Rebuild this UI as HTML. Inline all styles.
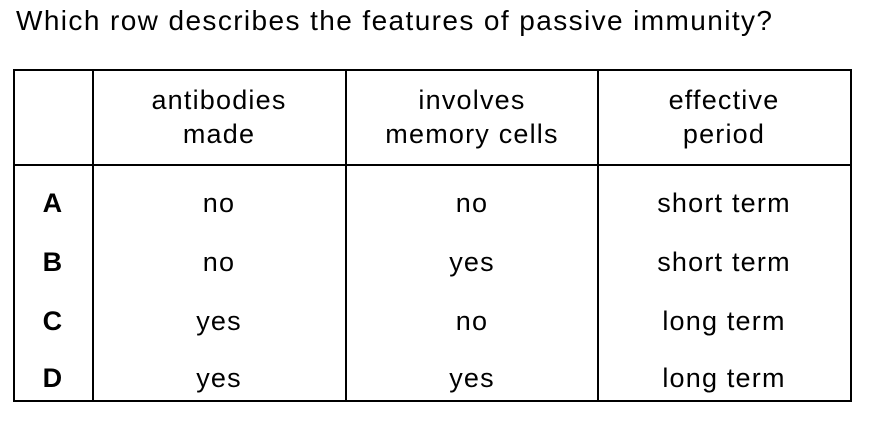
<!DOCTYPE html>
<html><head><style>
body{margin:0;width:871px;height:417px;background:#fff;overflow:hidden}
svg text{font-family:"Liberation Sans",Arial,sans-serif;font-size:27px;letter-spacing:1.2px;fill:#000}
</style></head><body>
<svg width="871" height="417" xmlns="http://www.w3.org/2000/svg">
<text x="16" y="30" style="font-size:28px;letter-spacing:1.4px">Which row describes the features of passive immunity?</text>
<g stroke="#000" stroke-width="2" fill="none">
<rect x="14" y="70" width="837" height="331"/>
<line x1="93" y1="70" x2="93" y2="401"/>
<line x1="346" y1="70" x2="346" y2="401"/>
<line x1="598" y1="70" x2="598" y2="401"/>
<line x1="14" y1="165" x2="851" y2="165"/>
</g>
<g text-anchor="middle">
<text x="219" y="109">antibodies</text><text x="219" y="143">made</text>
<text x="472" y="109">involves</text><text x="472" y="143">memory cells</text>
<text x="724" y="109">effective</text><text x="724" y="143">period</text>
<text x="53" y="212" style="font-weight:bold">A</text><text x="53" y="271" style="font-weight:bold">B</text><text x="53" y="330" style="font-weight:bold">C</text><text x="53" y="387" style="font-weight:bold">D</text>
<text x="219" y="212">no</text><text x="472" y="212">no</text><text x="724" y="212">short term</text>
<text x="219" y="271">no</text><text x="472" y="271">yes</text><text x="724" y="271">short term</text>
<text x="219" y="330">yes</text><text x="472" y="330">no</text><text x="724" y="330">long term</text>
<text x="219" y="387">yes</text><text x="472" y="387">yes</text><text x="724" y="387">long term</text>
</g>
</svg>
</body></html>
